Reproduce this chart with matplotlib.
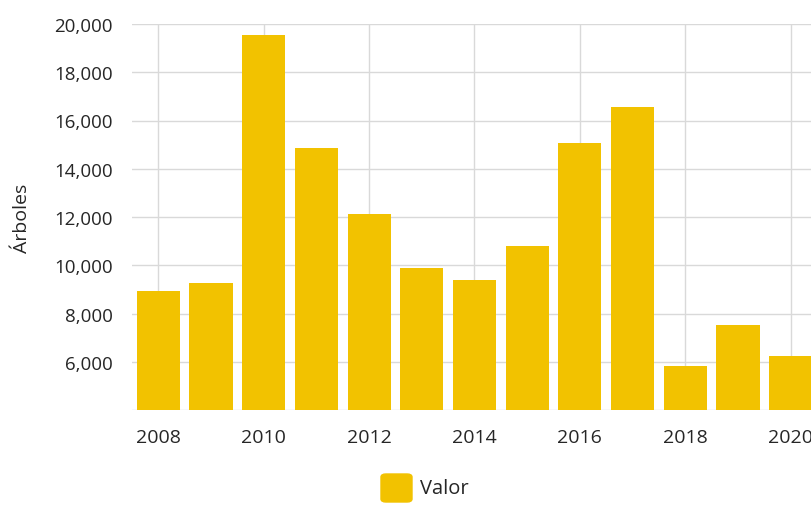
import matplotlib.pyplot as plt
from matplotlib.patches import FancyBboxPatch
from matplotlib.ticker import FuncFormatter

years = [2008, 2009, 2010, 2011, 2012, 2013, 2014, 2015, 2016, 2017, 2018, 2019, 2020]
valores = [8930, 9260, 19530, 14850, 12120, 9880, 9380, 10790, 15060, 16550, 5820, 7520, 6240]
tick_years = [2008, 2010, 2012, 2014, 2016, 2018, 2020]
y_ticks = [6000, 8000, 10000, 12000, 14000, 16000, 18000, 20000]

color = '#F2C200'
text_color = '#262626'
plt.rcParams['font.family'] = ['Open Sans', 'DejaVu Sans']

W, H = 811, 510
fig = plt.figure(figsize=(W / 100, H / 100), dpi=100)
# axes runs off the right edge a little
ax = fig.add_axes([132 / W, 1 - 411 / H, 685 / W, 386 / H])

ax.bar(years, valores, width=0.82, color=color, zorder=2)

ax.set_xlim(2007.5, 2020.5)
ax.set_ylim(4000, 20000)
ax.set_xticks(tick_years)
ax.set_yticks(y_ticks)
ax.yaxis.set_major_formatter(FuncFormatter(lambda v, p: f'{int(v):,}'))

ax.grid(True, color='#d9d9d9', linewidth=1, zorder=0)
for s in ax.spines.values():
    s.set_visible(False)
ax.axhline(4000, color='#d9d9d9', linewidth=1, zorder=1)
ax.tick_params(length=0, labelcolor=text_color)
ax.tick_params(axis='y', pad=14, labelsize=13.5)
ax.tick_params(axis='x', pad=13, labelsize=14)

fig.text(22 / W, 1 - 218 / H, 'Árboles', rotation=90, ha='center', va='center',
         fontsize=14, color=text_color)

# legend
lx, ly = 381 / W, 1 - 503 / H
fig.patches.append(FancyBboxPatch((lx, ly), 31 / W, 28 / H,
                                  boxstyle='round,pad=0,rounding_size=0.006',
                                  transform=fig.transFigure, color=color))
fig.text(420 / W, 1 - 489 / H, 'Valor', ha='left', va='center',
         fontsize=14.5, color=text_color)

fig.savefig('out.png', dpi=100)
